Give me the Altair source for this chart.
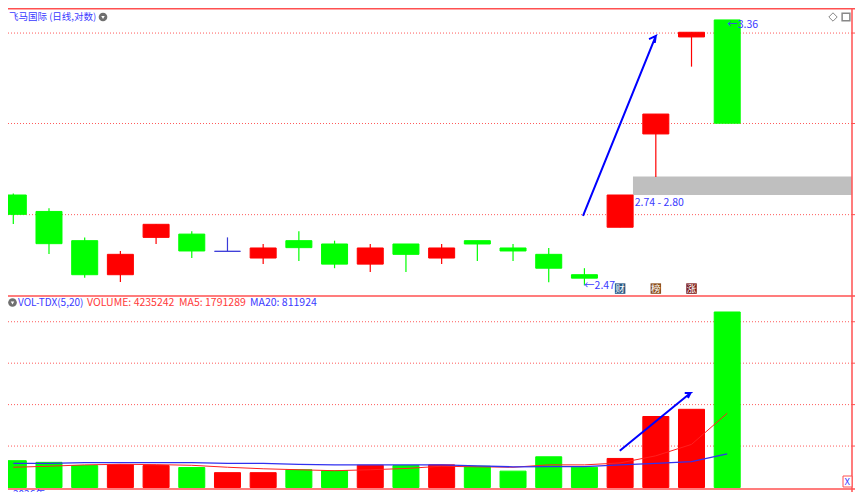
import altair as alt
import pandas as pd

BLUE = "#3a3aff"
RED = "#ff3a3a"
LINE = "#ff5050"
FONT = "Noto Sans CJK SC"

# ---- price panel (daily candles, log scale)
IDX = list(range(21))
OPEN = [2.740, 2.688, 2.598, 2.497, 2.608, 2.618, 2.566, 2.546, 2.598, 2.588, 2.528, 2.588, 2.546, 2.598, 2.576, 2.557, 2.497, 2.639, 2.942, 3.294, 3.360]
CLOSE = [2.679, 2.589, 2.497, 2.557, 2.648, 2.567, 2.566, 2.576, 2.577, 2.528, 2.576, 2.557, 2.576, 2.588, 2.567, 2.516, 2.487, 2.740, 3.011, 3.312, 2.979]
HIGH = [2.745, 2.698, 2.608, 2.567, 2.648, 2.627, 2.608, 2.588, 2.627, 2.598, 2.588, 2.588, 2.588, 2.598, 2.588, 2.576, 2.516, 2.740, 3.011, 3.312, 3.360]
LOW = [2.649, 2.558, 2.488, 2.476, 2.588, 2.546, 2.566, 2.528, 2.537, 2.516, 2.505, 2.505, 2.528, 2.537, 2.537, 2.475, 2.466, 2.639, 2.798, 3.182, 2.979]
KIND = ["g", "g", "g", "r", "r", "g", "d", "r", "g", "g", "r", "g", "r", "g", "g", "g", "g", "r", "r", "r", "g"]
PRICE_GRID = [3.309, 2.978, 2.678]
BAND = [17.36, 23.49, 2.74, 2.80]
ARROW_X = [15.96, 18.0, 17.81, 18.0, 17.97]
ARROW_P = [2.674, 3.298, 3.286, 3.298, 3.271]

# ---- volume panel
VOLUME = [647000, 607000, 529000, 553000, 529000, 482000, 358000, 358000, 428000, 405000, 536000, 529000, 546000, 513000, 395000, 741000, 489000, 701000, 1713000, 1887000, 4235242]
VOL_KIND = ["g", "g", "g", "r", "r", "g", "r", "r", "g", "g", "r", "g", "r", "g", "g", "g", "g", "r", "r", "r", "g"]
MA5 = [489000, 513000, 546000, 560000, 553000, 536000, 489000, 452000, 428000, 405000, 428000, 459000, 513000, 499000, 489000, 546000, 546000, 593000, 765000, 1040000, 1791289]
MA20 = [584000, 584000, 600000, 600000, 600000, 600000, 584000, 584000, 560000, 546000, 546000, 546000, 546000, 522000, 499000, 506000, 506000, 546000, 584000, 624000, 811924]
VOL_GRID = [1000000, 2000000, 3000000, 4000000]
VARROW_X = [16.99, 18.97, 18.81, 18.97, 18.90]
VARROW_V = [889000, 2278000, 2278000, 2278000, 2160000]

W, H1, H2 = 847, 289, 195
RIGHT = 844
xs = alt.Scale(domain=[-0.1485, 23.58], nice=False, zero=False, padding=0)
ys = alt.Scale(type="log", domain=[2.433, 3.407], range=[H1, 0], nice=False, zero=False, padding=0)
vs = alt.Scale(domain=[-108600, 4597000], range=[H1 + H2, H1], nice=False, zero=False, padding=0)
kc = alt.Scale(domain=["g", "r", "d"], range=["#00ff00", "#ff0000", "#3a3ad8"])
X = alt.X("i:Q", scale=xs, axis=None)
NOL = dict(legend=None)
ONE = pd.DataFrame({"a": [0]})


def label(txt, x, y, color=BLUE, size=10.5, **kw):
    return alt.Chart(pd.DataFrame({"t": [txt]})).mark_text(
        align="left", baseline=kw.pop("baseline", "middle"), font=FONT,
        fontSize=size, color=color, **kw
    ).encode(x=alt.value(x), y=alt.value(y), text="t:N")


def hline(y, x0=0, x1=W, color=LINE, w=1.5):
    return alt.Chart(ONE).mark_rule(color=color, strokeWidth=w).encode(
        x=alt.value(x0), x2=alt.value(x1), y=alt.value(y))


def vline(x, y0, y1, color=LINE, w=1.5):
    return alt.Chart(ONE).mark_rule(color=color, strokeWidth=w).encode(
        x=alt.value(x), y=alt.value(y0), y2=alt.value(y1))


def icon(x, y):
    return [
        alt.Chart(ONE).mark_point(shape="circle", filled=True, color="#707070", size=75, opacity=1).encode(x=alt.value(x), y=alt.value(y)),
        alt.Chart(ONE).mark_point(shape="triangle-down", filled=True, color="#ffffff", size=12, opacity=1).encode(x=alt.value(x), y=alt.value(y + 0.5)),
    ]


Y = lambda f: alt.Y(f, scale=ys, axis=None)
VY = lambda f: alt.Y(f, scale=vs, axis=None)


def badge(txt, i, bg):
    d = pd.DataFrame({"i": [i], "p": [2.457], "t": [txt]})
    return [
        alt.Chart(d).mark_point(shape="square", filled=True, color=bg, size=110, opacity=1).encode(x=X, y=Y("p:Q")),
        alt.Chart(d).mark_text(font=FONT, fontSize=9.5, color="#ffffff").encode(x=X, y=Y("p:Q"), text="t:N"),
    ]


def note(txt, i, p):
    return alt.Chart(pd.DataFrame({"i": [i], "p": [p], "t": [txt]})).mark_text(
        align="left", baseline="middle", font=FONT, fontSize=10.5, color=BLUE
    ).encode(x=X, y=Y("p:Q"), text="t:N")


c = pd.DataFrame({"i": IDX, "o": OPEN, "c": CLOSE, "h": HIGH, "l": LOW, "k": KIND})
grid1 = alt.Chart(pd.DataFrame({"p": PRICE_GRID})).mark_rule(color="#ff5a5a", strokeWidth=1, strokeDash=[1, 2]).encode(
    x=alt.value(0), x2=alt.value(RIGHT), y=Y("p:Q"))
ticks1 = alt.Chart(pd.DataFrame({"p": PRICE_GRID})).mark_rule(color=LINE, strokeWidth=1).encode(
    x=alt.value(RIGHT), x2=alt.value(W), y=Y("p:Q"))
band = alt.Chart(pd.DataFrame({"i": [BAND[0]], "j": [BAND[1]], "a": [BAND[2]], "b": [BAND[3]]})).mark_rect(color="#bfbfbf").encode(
    x=X, x2="j:Q", y=Y("a:Q"), y2="b:Q")
wick = alt.Chart(c).mark_rule(strokeWidth=1.2, clip=True).encode(
    x=X, y=Y("h:Q"), y2="l:Q", color=alt.Color("k:N", scale=kc, **NOL))
body = alt.Chart(c).mark_bar(size=26, clip=True, strokeWidth=1).encode(
    x=X, y=Y("o:Q"), y2="c:Q",
    color=alt.Color("k:N", scale=kc, **NOL), stroke=alt.Stroke("k:N", scale=kc, **NOL))
arrow1 = alt.Chart(pd.DataFrame({"i": ARROW_X, "p": ARROW_P, "n": range(5)})).mark_line(color="#0000ff", strokeWidth=2).encode(
    x=X, y=Y("p:Q"), order="n:Q")

v = pd.DataFrame({"i": IDX, "v": VOLUME, "z": [0] * 21, "k": VOL_KIND, "m5": MA5, "m20": MA20})
grid2 = alt.Chart(pd.DataFrame({"v": VOL_GRID})).mark_rule(color="#ff5a5a", strokeWidth=1, strokeDash=[1, 2]).encode(
    x=alt.value(0), x2=alt.value(RIGHT), y=VY("v:Q"))
ticks2 = alt.Chart(pd.DataFrame({"v": VOL_GRID})).mark_rule(color=LINE, strokeWidth=1).encode(
    x=alt.value(RIGHT), x2=alt.value(W), y=VY("v:Q"))
vbar = alt.Chart(v).mark_bar(size=26, clip=True, strokeWidth=1).encode(
    x=X, y=VY("v:Q"), y2="z:Q",
    color=alt.Color("k:N", scale=kc, **NOL), stroke=alt.Stroke("k:N", scale=kc, **NOL))
line5 = alt.Chart(v).mark_line(color="#ff2020", strokeWidth=1, clip=True).encode(x=X, y=VY("m5:Q"))
line20 = alt.Chart(v).mark_line(color="#3030f0", strokeWidth=1.3, clip=True).encode(x=X, y=VY("m20:Q"))
arrow2 = alt.Chart(pd.DataFrame({"i": VARROW_X, "v": VARROW_V, "n": range(5)})).mark_line(color="#0000ff", strokeWidth=2).encode(
    x=X, y=VY("v:Q"), order="n:Q")

P2 = H1
chart = alt.layer(
    grid1, ticks1, band, wick, body, arrow1,
    note("2.74 - 2.80", 17.41, 2.714), note("←2.47", 15.99, 2.464), note("←3.36", 20.0, 3.34),
    *badge("财", 17.0, "#2b5a86"), *badge("榜", 18.0, "#8b4f1f"), *badge("涨", 19.0, "#7a1a1a"),
    grid2, ticks2, vbar, line5, line20, arrow2,
    hline(0.7), hline(288), hline(481), vline(RIGHT, 0, H1 + H2),
    label("飞马国际 (日线,对数)", 1, 9, size=9.5),
    *icon(95, 9),
    alt.Chart(ONE).mark_point(shape="diamond", color="#888888", size=70, opacity=1, strokeWidth=1).encode(x=alt.value(825), y=alt.value(9)),
    alt.Chart(ONE).mark_point(shape="square", color="#888888", size=60, opacity=1, strokeWidth=1.5).encode(x=alt.value(838), y=alt.value(9)),
    *icon(4.5, P2 + 5.5),
    label("VOL-TDX(5,20)", 10, P2 + 5.5, size=10),
    label("VOLUME: 4235242", 79, P2 + 5.5, color=RED),
    label("MA5: 1791289", 171, P2 + 5.5, color=RED),
    label("MA20: 811924", 242, P2 + 5.5),
    label("2026年", 5, 482, baseline="top", size=10),
    alt.Chart(ONE).mark_rect(stroke=LINE, fill="#ffffff", strokeWidth=1).encode(
        x=alt.value(835), x2=alt.value(844), y=alt.value(468), y2=alt.value(479)),
    label("X", 836.5, 473.5, size=9.5),
).resolve_scale(y="independent").properties(
    width=W, height=H1 + H2, padding=0, background="#ffffff",
    autosize=alt.AutoSizeParams(type="none"),
).configure_view(stroke=None)

chart.save("out.html", embed_options={"renderer": "svg", "actions": False})
